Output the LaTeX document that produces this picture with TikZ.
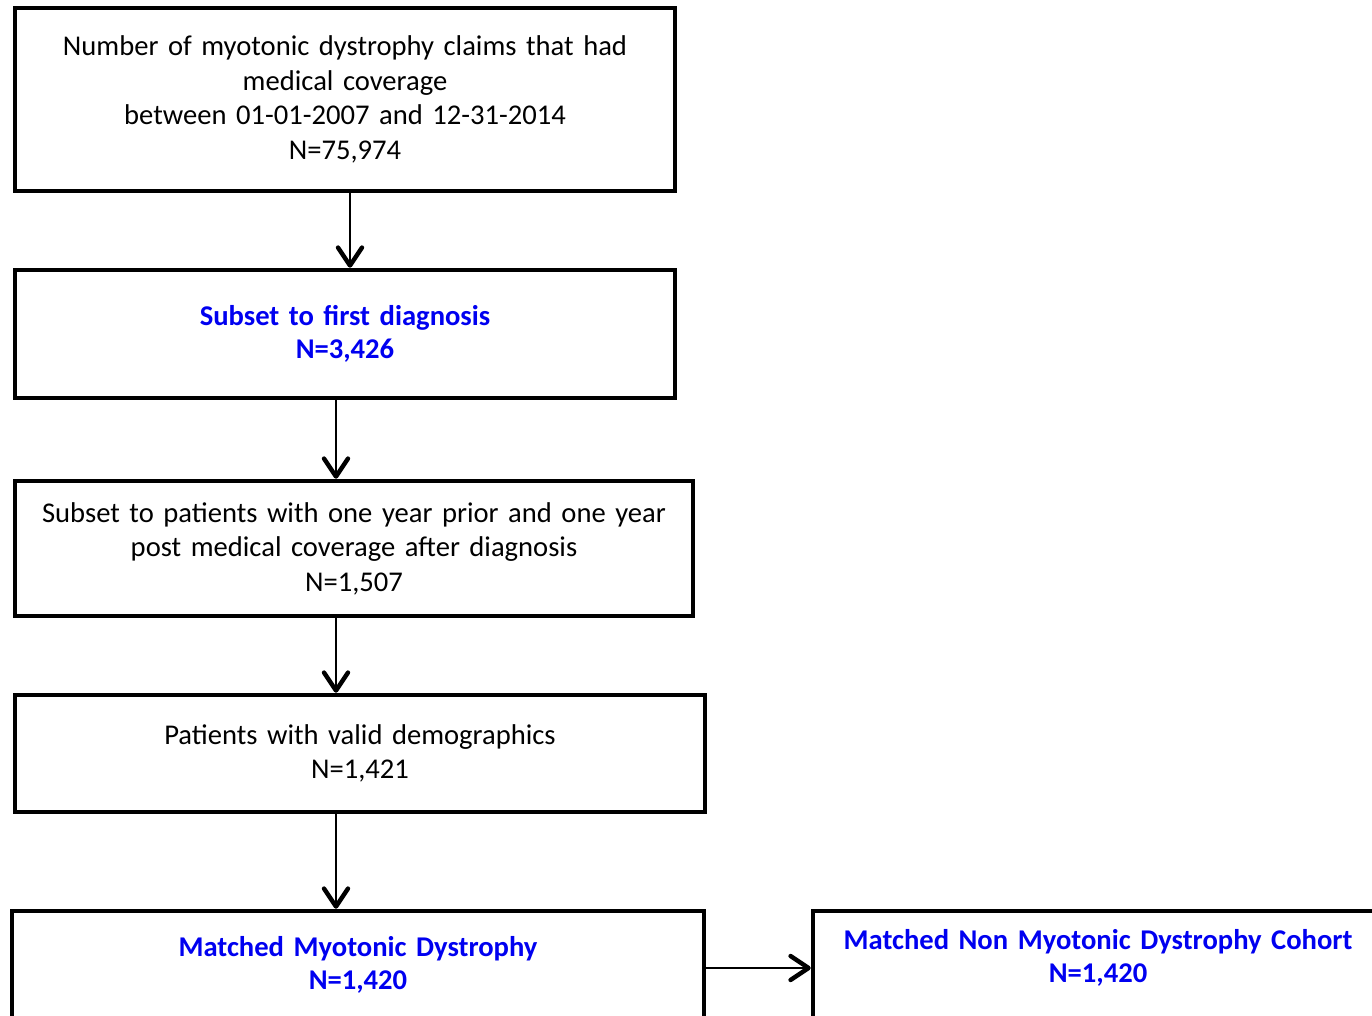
\documentclass[tikz,border=0pt]{standalone}
\usepackage{fontspec}
\setmainfont{Carlito}
\usepackage{xcolor}
\usetikzlibrary{arrows.meta}

\definecolor{flowblue}{RGB}{0,0,240}

\tikzset{
  box/.style={draw, line width=2.25pt, align=center, inner xsep=0pt,
    font=\fontsize{14.3}{17.25}\selectfont},
  hl/.style={text=flowblue, font=\fontsize{14.3}{16.5}\selectfont\bfseries},
  flow/.style={line width=1pt,
    -{Straight Barb[length=9pt,width=12pt,line width=2.2pt,round]}}
}

\begin{document}
\begin{tikzpicture}[x=0.5pt,y=-0.5pt]
\useasboundingbox (0,0) rectangle (1372,1016);
\clip (0,0) rectangle (1372,1016);
% boxes of the flow
\node[box, text width=330pt, minimum height=91.5pt] (claims) at (345,99.5)
  {Number of myotonic dystrophy claims that had\\medical coverage\\
   between 01-01-2007 and 12-31-2014\\N=75,974};
\node[box, hl, text width=330pt, minimum height=64pt] (first) at (345,334)
  {Subset to first diagnosis\\N=3,426};
\node[box, text width=339pt, minimum height=67.5pt] (prior) at (354,548.5)
  {Subset to patients with one year prior and one year\\
   post medical coverage after diagnosis\\N=1,507};
\node[box, text width=345pt, minimum height=58.5pt] (demo) at (360,753.5)
  {Patients with valid demographics\\N=1,421};
\node[box, hl, text width=346pt, minimum height=54pt] (cases) at (358,965)
  {Matched Myotonic Dystrophy\\N=1,420};
\node[box, hl, text width=285pt, text depth=27pt, minimum height=55pt] (controls) at (1098,966)
  {Matched Non Myotonic Dystrophy Cohort\\N=1,420};

% connectors
\draw[flow] ([xshift=2.5pt]claims.south) -- ([xshift=2.5pt]claims.south |- first.north);
\draw[flow] ([xshift=-4.5pt]first.south) -- ([xshift=-4.5pt]first.south |- prior.north);
\draw[flow] ([xshift=-9pt]prior.south) -- ([xshift=-9pt]prior.south |- demo.north);
\draw[flow] ([xshift=-12pt]demo.south) -- ([xshift=-12pt]demo.south |- cases.north);
\draw[flow] ([yshift=-1.5pt]cases.east) -- ([yshift=-1.5pt]cases.east -| controls.west);
\end{tikzpicture}
\end{document}
